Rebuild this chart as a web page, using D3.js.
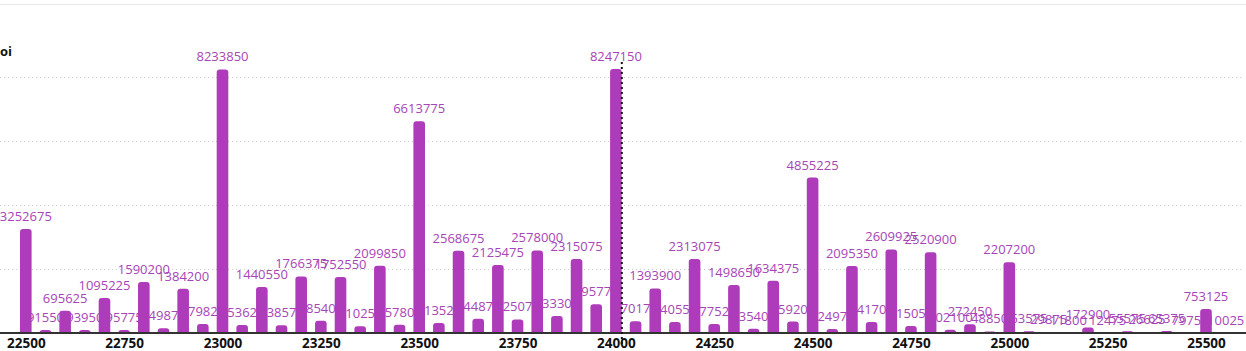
<!DOCTYPE html>
<html>
<head>
<meta charset="utf-8">
<script src="https://cdn.jsdelivr.net/npm/d3@7"></script>
<style>
  html, body { margin: 0; padding: 0; background: #fff; }
  #oi-chart { width: 1246px; height: 351px; overflow: hidden; }
</style>
</head>
<body>
<div id="oi-chart"></div>
<script>
// Strike prices (categories)
const strikes = [
  22500, 22550, 22600, 22650, 22700, 22750, 22800, 22850, 22900, 22950,
  23000, 23050, 23100, 23150, 23200, 23250, 23300, 23350, 23400, 23450,
  23500, 23550, 23600, 23650, 23700, 23750, 23800, 23850, 23900, 23950,
  24000, 24050, 24100, 24150, 24200, 24250, 24300, 24350, 24400, 24450,
  24500, 24550, 24600, 24650, 24700, 24750, 24800, 24850, 24900, 24950,
  25000, 25050, 25100, 25150, 25200, 25250, 25300, 25350, 25400, 25450,
  25500, 25550
];

// Open interest per strike
const oiValues = [
  3252675, 91550, 695625, 93950, 1095225, 95775, 1590200, 149875, 1384200, 279825,
  8233850, 253625, 1440550, 238575, 1766375, 385400, 1752550, 210250, 2099850, 257800,
  6613775, 313525, 2568675, 444875, 2125475, 425075, 2578000, 533300, 2315075, 895775,
  8247150, 370175, 1393900, 340550, 2313075, 277525, 1498650, 135400, 1634375, 359200,
  4855225, 124975, 2095350, 341700, 2609925, 215050, 2520900, 102100, 272450, 48850,
  2207200, 53575, 29875, 11800, 172900, 12475, 55575, 26625, 65375, 7975,
  753125, 10025
];

const xTicks = [22500, 22750, 23000, 23250, 23500, 23750, 24000, 24250, 24500, 24750, 25000, 25250, 25500];
const gridValues = [2000000, 4000000, 6000000, 8000000];
const spotPrice = 24015;
const axisTitle = 'oi';

const width = 1246;
const height = 351;
const baseY = 333;

const data = strikes.map((s, i) => ({ strike: s, value: oiValues[i] }));

const svg = d3.select('#oi-chart')
  .append('svg')
  .attr('width', width)
  .attr('height', height);

// X scale - strike to bar centre
const x = d3.scaleLinear()
  .domain([22500, 25550])
  .range([25.8, 25.8 + 61 * 19.67]);

// Y scale
const y = d3.scaleLinear()
  .domain([0, 10000000])
  .range([baseY, baseY - 320.1]);

const barWidth = 11.6;

// top border line
svg.append('line')
  .attr('x1', 0).attr('x2', width)
  .attr('y1', 4.5).attr('y2', 4.5)
  .attr('stroke', '#e8e8e8')
  .attr('stroke-width', 1);

// dotted gridlines
svg.append('g')
  .selectAll('line')
  .data(gridValues)
  .enter()
  .append('line')
  .attr('x1', 0)
  .attr('x2', width - 4)
  .attr('y1', d => Math.round(y(d)) + 0.5)
  .attr('y2', d => Math.round(y(d)) + 0.5)
  .attr('stroke', '#cfcfcf')
  .attr('stroke-width', 1)
  .attr('stroke-dasharray', '1,3');

// axis title (cut off at the left edge)
svg.append('text')
  .attr('x', 0)
  .attr('y', 56)
  .style('font-family', '"Open Sans", sans-serif')
  .style('font-size', '13px')
  .style('font-weight', '700')
  .style('fill', '#111')
  .text(axisTitle);

// value labels (drawn below the bars)
svg.append('g')
  .selectAll('text')
  .data(data)
  .enter()
  .append('text')
  .attr('x', d => x(d.strike))
  .attr('y', d => y(d.value) - 8)
  .attr('text-anchor', 'middle')
  .style('font-family', '"Open Sans", sans-serif')
  .style('font-size', '13px')
  .style('fill', '#a645b6')
  .text(d => d.value);

// bars with rounded tops
const barPath = d => {
  const x0 = x(d.strike) - barWidth / 2;
  const x1 = x0 + barWidth;
  const top = y(d.value);
  const h = baseY - top;
  const r = Math.min(3, h, barWidth / 2);
  return `M${x0},${baseY}V${top + r}Q${x0},${top} ${x0 + r},${top}` +
    `H${x1 - r}Q${x1},${top} ${x1},${top + r}V${baseY}Z`;
};

svg.append('g')
  .selectAll('path')
  .data(data)
  .enter()
  .append('path')
  .attr('d', barPath)
  .attr('fill', '#ae3bb9');

// X axis
const xAxis = svg.append('g')
  .attr('transform', `translate(0,${baseY})`)
  .call(d3.axisBottom(x).tickValues(xTicks).tickSize(0).tickPadding(5).tickFormat(d3.format('d')));

xAxis.select('.domain').remove();
xAxis.append('line')
  .attr('x1', 0).attr('x2', width)
  .attr('y1', 0).attr('y2', 0)
  .attr('stroke', '#333')
  .attr('stroke-width', 2);

xAxis.selectAll('text')
  .style('font-family', '"Open Sans", sans-serif')
  .style('font-size', '13.5px')
  .style('font-weight', '700')
  .style('fill', '#111');

// spot price marker
svg.append('line')
  .attr('x1', x(spotPrice)).attr('x2', x(spotPrice))
  .attr('y1', 62).attr('y2', 346)
  .attr('stroke', '#111')
  .attr('stroke-width', 2)
  .attr('stroke-dasharray', '2,3');
</script>
</body>
</html>
